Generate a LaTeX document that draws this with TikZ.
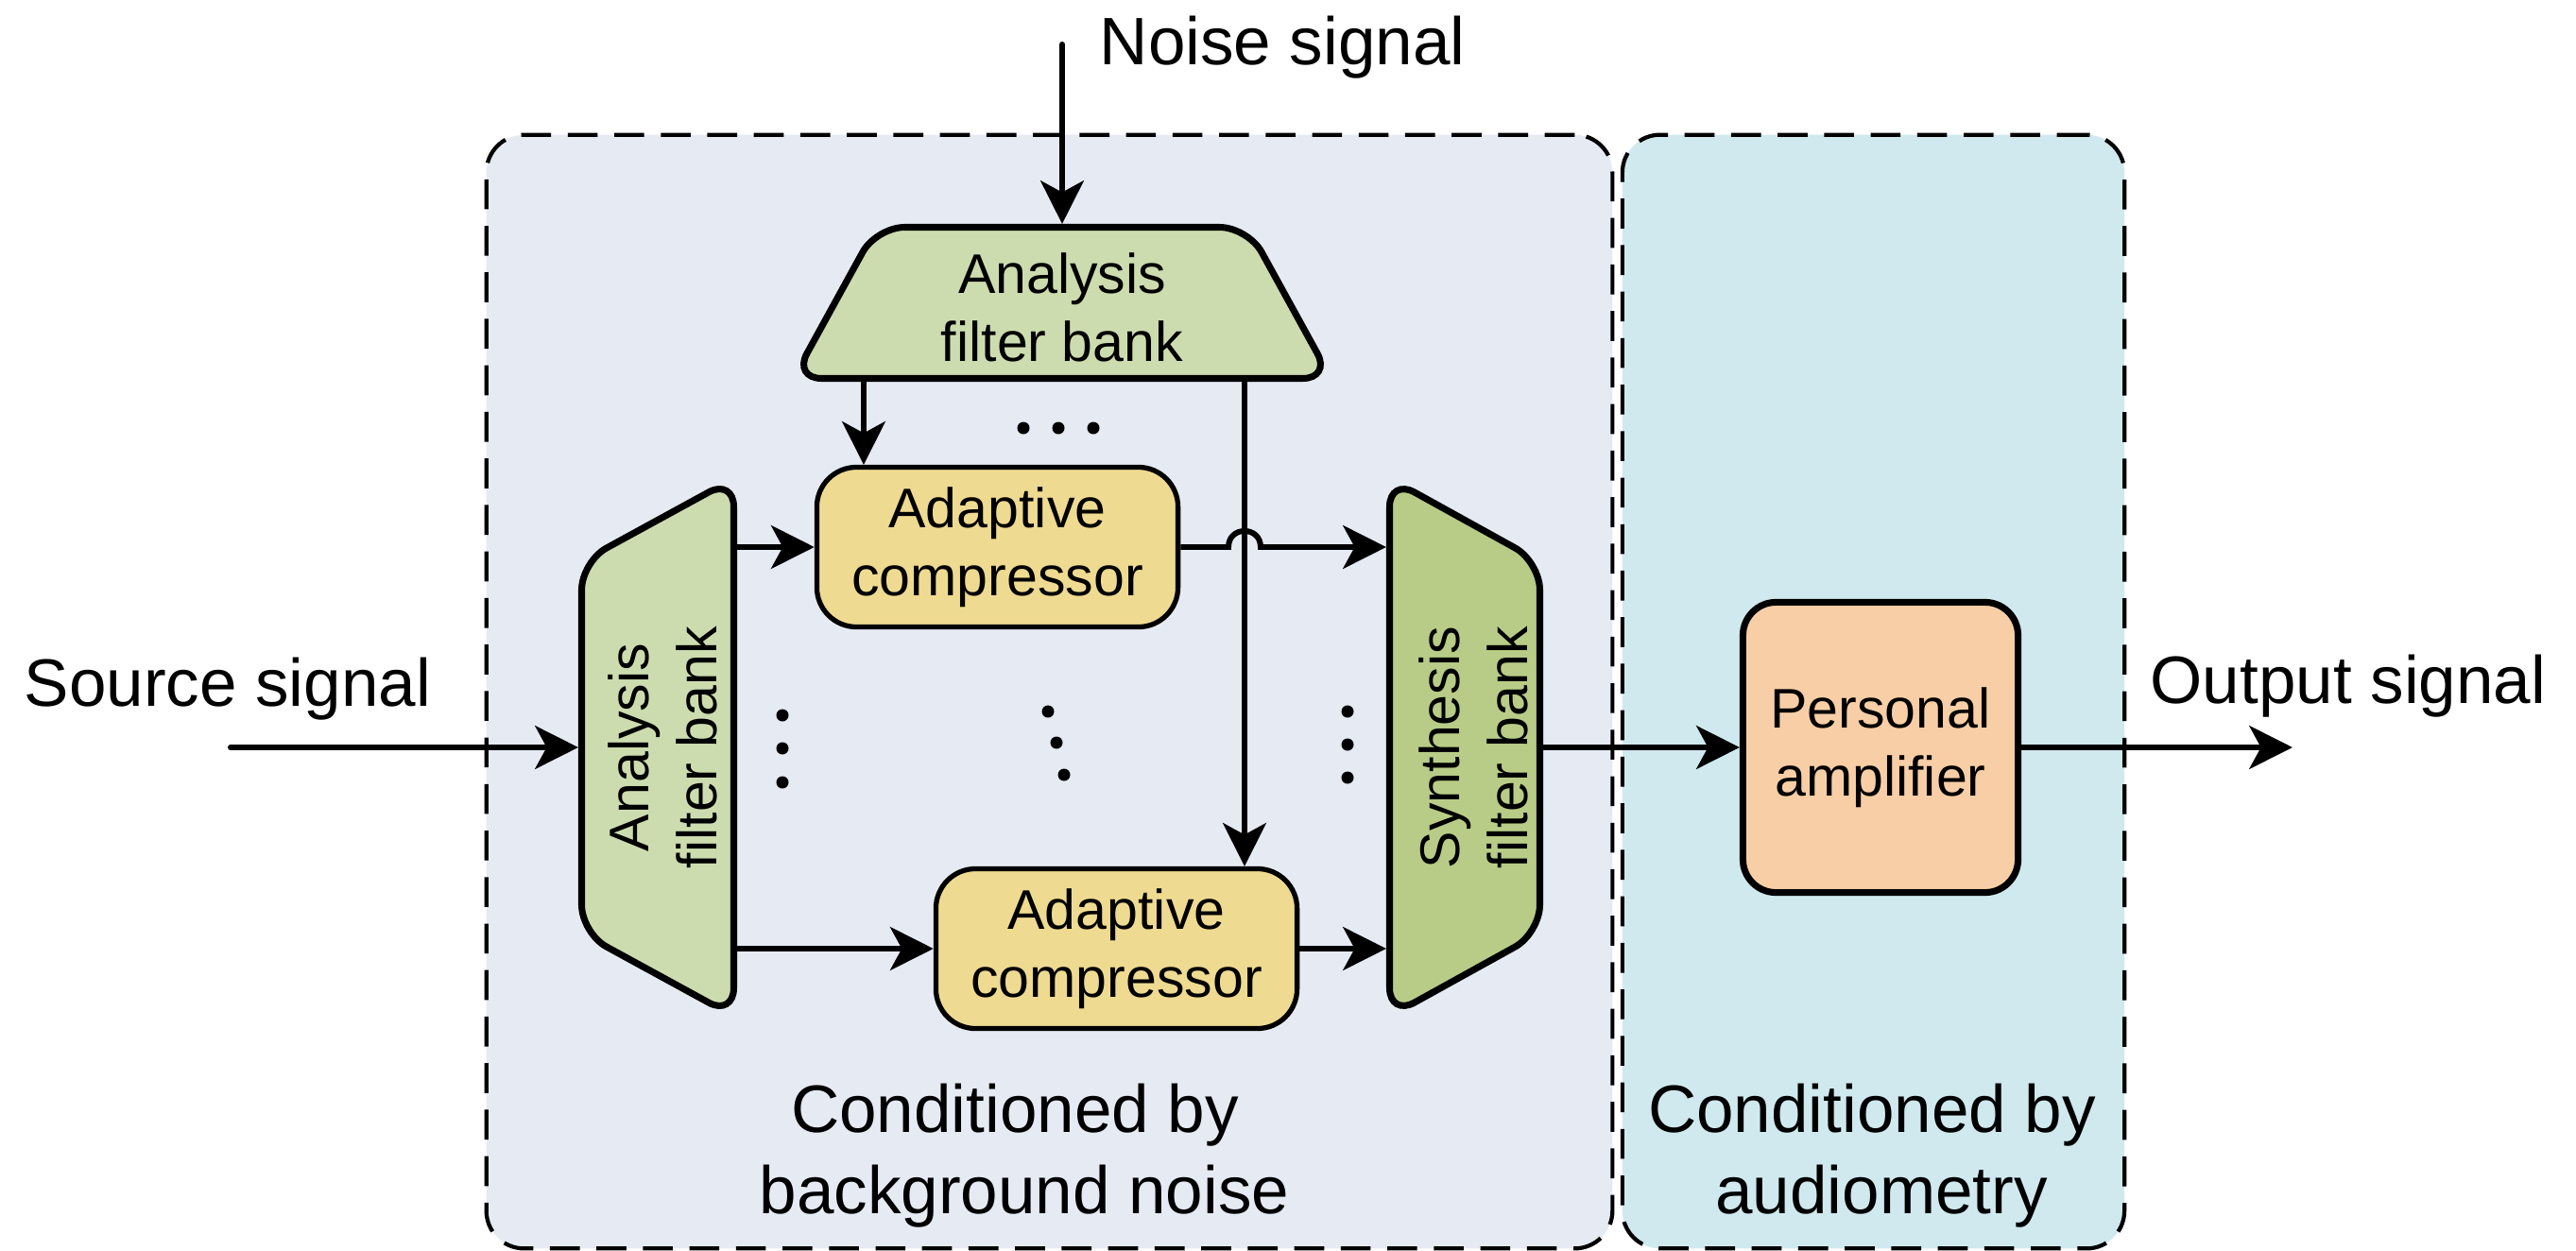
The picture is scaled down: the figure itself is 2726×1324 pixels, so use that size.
\documentclass[tikz,border=0pt]{standalone}
\usepackage{fontspec}
\setmainfont{Liberation Sans}
\usetikzlibrary{arrows.meta}
\definecolor{panelA}{HTML}{E6EAF3}
\definecolor{panelB}{HTML}{D0E9EE}
\definecolor{greenA}{HTML}{CDDCAF}
\definecolor{greenB}{HTML}{B8CC87}
\definecolor{compY}{HTML}{EFDA91}
\definecolor{ampO}{HTML}{F8CEA6}
\begin{document}
\begin{tikzpicture}[x=0.01cm,y=-0.01cm,
  bigtxt/.style={font=\fontsize{20.2}{24.5}\selectfont},
  smalltxt/.style={font=\fontsize{16.8}{20.5}\selectfont},
  arr/.style={line width=1.7pt,-{Stealth[length=13pt,width=13pt,inset=3.5pt]}},
  panel/.style={draw=black,line width=1.2pt,dash pattern=on 9pt off 5pt,rounded corners=0.4cm,inner sep=0pt,outer sep=0pt},
  trap/.style={draw=black,line width=2pt,rounded corners=0.3cm},
  holder/.style={draw=none,rectangle,inner sep=0pt,outer sep=0pt},
  comp/.style={draw=black,line width=1.5pt,fill=compY,rounded corners=0.42cm,minimum width=3.82cm,minimum height=1.69cm,align=center,smalltxt,inner sep=0pt,outer sep=0.75pt},
  ampbox/.style={draw=black,line width=2pt,fill=ampO,rounded corners=0.35cm,minimum width=2.91cm,minimum height=3.07cm,align=center,smalltxt,inner sep=0pt,outer sep=1pt},
  dot/.style={fill=black}
]
\useasboundingbox (0,0) rectangle (2726,1324);

% panels
\node[panel,fill=panelA,minimum width=11.91cm,minimum height=11.78cm] (pnlA) at (1110.5,732) {};
\node[panel,fill=panelB,minimum width=5.31cm,minimum height=11.78cm] (pnlB) at (1982.5,732) {};
\node[bigtxt,align=center,inner sep=0pt] (pnlAlbl) at (1084,1223) {Conditioned by\hspace*{0.28em}\\background noise};
\node[bigtxt,align=center,inner sep=0pt] (pnlBlbl) at (1991,1223) {Conditioned by\hspace*{0.28em}\\audiometry};

% trapezoid shapes
\draw[trap,fill=greenA] (927.4,240.5) -- (1320.6,240.5) -- (1408.6,400.5) -- (839.4,400.5) -- cycle;
\draw[trap,fill=greenA] (615.5,594.4) -- (776.5,506.4) -- (776.5,1075.6) -- (615.5,987.6) -- cycle;
\draw[trap,fill=greenB] (1470.5,506.4) -- (1629.5,594.4) -- (1629.5,987.6) -- (1470.5,1075.6) -- cycle;
\node[holder,minimum width=5.76cm,minimum height=1.67cm] (afbT) at (1124,320.5) {};
\node[holder,minimum width=1.68cm,minimum height=5.76cm] (afbL) at (696,791) {};
\node[holder,minimum width=1.66cm,minimum height=5.76cm] (sfb) at (1550,791) {};
\node[smalltxt,align=center,inner sep=0pt] (afbTtxt) at (1124,325.5) {Analysis\\filter bank};
\node[smalltxt,align=center,inner sep=0pt,rotate=90] (afbLtxt) at (701.5,791) {Analysis\\filter bank};
\node[smalltxt,align=center,inner sep=0pt,rotate=90] (sfbtxt) at (1559.5,791) {Synthesis\\filter bank};

% compressors and amplifier
\node[comp] (cmpT) at (1055.5,579) {Adaptive\\compressor};
\node[comp] (cmpB) at (1181.5,1004) {Adaptive\\compressor};
\node[ampbox] (amp) at (1990,791) {Personal\\amplifier};

% outer labels
\node[bigtxt,anchor=base west,inner sep=0pt] (noiselbl) at (1163,68) {Noise signal};
\node[bigtxt,anchor=base west,inner sep=0pt] (srclbl) at (25,747) {Source signal};
\node[bigtxt,anchor=base west,inner sep=0pt] (outlbl) at (2275,744) {Output signal};

% connectors
\coordinate (srcstart) at (244,791);
\coordinate (noisestart) at (1124,47);
\coordinate (outend) at (2426,791);
\coordinate (tapA) at (914,0);
\coordinate (tapB) at (1317,0);
\draw[arr,line cap=round] (srcstart) -- (afbL.west);
\draw[arr,line cap=round] (noisestart) -- (afbT.north);
\draw[arr] (tapA |- afbT.south) -- (tapA |- cmpT.north);
\draw[arr] (tapB |- afbT.south) -- (tapB |- cmpB.north);
\draw[arr] (afbL.east |- cmpT.west) -- (cmpT.west);
\draw[arr] (cmpT.east) -- (1300,579) .. controls (1300,556.3) and (1334,556.3) .. (1334,579) -- (sfb.west |- cmpT.east);
\draw[arr] (afbL.east |- cmpB.west) -- (cmpB.west);
\draw[arr] (cmpB.east) -- (sfb.west |- cmpB.east);
\draw[arr] (sfb.east) -- (amp.west);
\draw[arr] (amp.east) -- (outend);

% ellipsis dots
\foreach \p in {(1083,453),(1120,453),(1157,453),
                (828,757),(828,792),(828,828),
                (1109,753),(1118,786),(1126,820),
                (1426,753),(1426,788),(1426,823)}
  \fill[dot] \p circle[radius=0.065cm];
\end{tikzpicture}
\end{document}
